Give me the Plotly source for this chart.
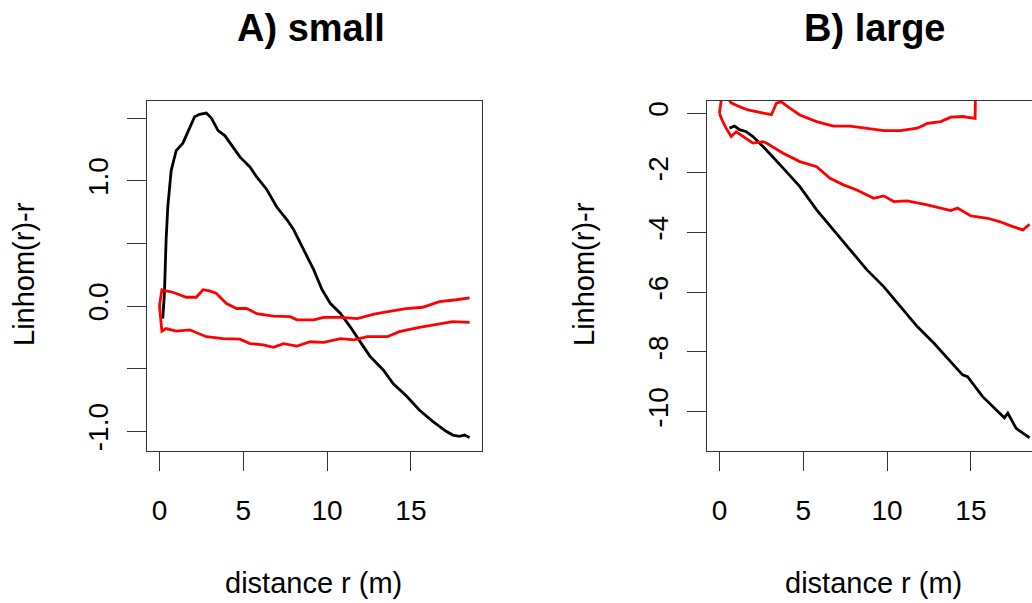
import plotly.graph_objects as go

# ---------------- data ----------------
# Panel A (small)
r_obs_A = [0.2, 0.3, 0.4, 0.5, 0.7, 1.0, 1.4, 1.8, 2.1, 2.4, 2.8, 3.1, 3.5, 3.9, 4.3, 4.8, 5.4, 5.8,
           6.4, 7.0, 7.6, 8.0, 8.6, 9.2, 9.7, 10.2, 10.8, 11.35, 12.05, 12.55, 13.35, 13.95, 14.75,
           15.5, 16.3, 17.1, 17.5, 17.9, 18.2, 18.5]
L_obs_A = [-0.1, 0.1, 0.53, 0.79, 1.08, 1.24, 1.30, 1.42, 1.51, 1.53, 1.54, 1.50, 1.40, 1.36, 1.28, 1.19,
           1.11, 1.03, 0.93, 0.79, 0.69, 0.61, 0.45, 0.29, 0.13, 0.02, -0.06, -0.16, -0.30, -0.40,
           -0.51, -0.62, -0.72, -0.83, -0.92, -1.00, -1.03, -1.04, -1.03, -1.05]

r_hi_A = [0.0, 0.15, 0.4, 0.8, 1.2, 1.6, 2.2, 2.6, 3.0, 3.4, 4.0, 4.6, 5.2, 5.8, 6.8, 7.8, 8.2, 9.2,
          9.8, 10.8, 11.8, 12.8, 13.8, 14.7, 15.7, 16.7, 17.7, 18.5]
L_hi_A = [0.0, 0.13, 0.12, 0.11, 0.09, 0.07, 0.07, 0.13, 0.12, 0.10, 0.02, -0.02, -0.02, -0.06, -0.08,
          -0.085, -0.11, -0.11, -0.09, -0.09, -0.10, -0.064, -0.04, -0.02, -0.01, 0.035, 0.05, 0.065]

r_lo_A = [0.0, 0.15, 0.4, 1.0, 1.8, 2.8, 3.8, 4.8, 5.4, 6.2, 6.8, 7.4, 8.2, 9.0, 9.8, 10.8, 11.6, 12.4,
          13.6, 14.3, 15.5, 16.7, 17.5, 18.5]
L_lo_A = [0.0, -0.2, -0.18, -0.20, -0.19, -0.245, -0.26, -0.265, -0.30, -0.31, -0.33, -0.30, -0.32,
          -0.285, -0.29, -0.26, -0.27, -0.245, -0.245, -0.205, -0.17, -0.145, -0.125, -0.13]

# Panel B (large)
r_obs_B = [0.6, 0.9, 1.2, 1.6, 2.0, 2.8, 3.8, 4.8, 5.8, 6.8, 7.8, 8.8, 9.8, 10.8, 11.8, 12.8, 13.8,
           14.5, 14.8, 15.7, 16.7, 17.0, 17.2, 17.7, 18.4, 18.5]
L_obs_B = [-0.50, -0.43, -0.55, -0.62, -0.78, -1.23, -1.84, -2.46, -3.24, -3.91, -4.58, -5.25, -5.81,
           -6.48, -7.15, -7.71, -8.32, -8.77, -8.83, -9.50, -10.05, -10.21, -10.05, -10.56, -10.84, -10.88]

r_hi_B = [0.0, 0.15, 0.4, 0.7, 1.2, 1.7, 2.2, 2.7, 3.1, 3.4, 3.7, 4.2, 4.8, 5.8, 6.8, 7.8, 8.8, 9.8,
          10.8, 11.8, 12.4, 13.2, 13.8, 14.5, 15.25, 15.3, 16.5, 18.5]
L_hi_B = [0.0, 0.6, 0.6, 0.35, 0.22, 0.11, 0.05, -0.02, -0.05, 0.34, 0.38, 0.17, -0.06, -0.28, -0.43,
          -0.43, -0.50, -0.58, -0.58, -0.50, -0.34, -0.28, -0.13, -0.11, -0.17, 2.0, 2.0, 2.0]

r_lo_B = [0.0, 0.15, 0.4, 0.7, 1.0, 1.4, 2.0, 2.6, 2.8, 3.8, 4.8, 5.8, 6.6, 7.4, 8.2, 9.2, 9.8, 10.4,
          11.2, 12.4, 13.2, 13.8, 14.2, 15.0, 16.0, 16.7, 17.5, 18.1, 18.5]
L_lo_B = [0.0, -0.22, -0.50, -0.78, -0.62, -0.78, -1.00, -0.95, -1.00, -1.34, -1.62, -1.79, -2.18,
          -2.40, -2.57, -2.85, -2.77, -2.96, -2.94, -3.07, -3.18, -3.26, -3.18, -3.44, -3.52, -3.63,
          -3.80, -3.91, -3.72]

yticks_A = [-1.0, -0.5, 0.0, 0.5, 1.0, 1.5]
ytext_A = ["-1.0", "", "0.0", "", "1.0", ""]
yticks_B = [-10, -8, -6, -4, -2, 0]
ytext_B = ["-10", "-8", "-6", "-4", "-2", "0"]
xticks = [0, 5, 10, 15]

# ---------------- layout helpers ----------------
W, H = 1032, 603
FONT = "Liberation Sans, Arial, sans-serif"
px_per_unit = 335 / 19.98


def px(x):
    return x / W


def py(y):
    return (H - y) / H


fig = go.Figure()

line_w = 2.8
fig.add_trace(go.Scatter(x=r_obs_A, y=L_obs_A, mode="lines", line=dict(color="black", width=line_w),
                         xaxis="x", yaxis="y", showlegend=False))
fig.add_trace(go.Scatter(x=r_hi_A, y=L_hi_A, mode="lines", line=dict(color="#ff0000", width=line_w),
                         xaxis="x", yaxis="y", showlegend=False))
fig.add_trace(go.Scatter(x=r_lo_A, y=L_lo_A, mode="lines", line=dict(color="#ff0000", width=line_w),
                         xaxis="x", yaxis="y", showlegend=False))
fig.add_trace(go.Scatter(x=r_obs_B, y=L_obs_B, mode="lines", line=dict(color="black", width=line_w),
                         xaxis="x2", yaxis="y2", showlegend=False))
fig.add_trace(go.Scatter(x=r_hi_B, y=L_hi_B, mode="lines", line=dict(color="#ff0000", width=line_w),
                         xaxis="x2", yaxis="y2", showlegend=False))
fig.add_trace(go.Scatter(x=r_lo_B, y=L_lo_B, mode="lines", line=dict(color="#ff0000", width=line_w),
                         xaxis="x2", yaxis="y2", showlegend=False))

axis_common = dict(showgrid=False, zeroline=False, showline=True, linecolor="#333333", linewidth=1.3,
                   ticks="outside", ticklen=19, tickwidth=1.3, tickcolor="#333333",
                   tickfont=dict(family=FONT, size=28, color="black"))

ydom = [py(451), py(101)]
right_end = -0.74 + (W - 707) / px_per_unit

fig.update_layout(
    width=W, height=H, margin=dict(l=0, r=0, t=0, b=0),
    paper_bgcolor="white", plot_bgcolor="white",
    xaxis=dict(domain=[px(147), px(482)], range=[-0.74, 19.24], tickvals=xticks, mirror=True,
               anchor="y", ticklabelstandoff=15, **axis_common),
    yaxis=dict(domain=ydom, range=[-1.157, 1.636], tickvals=yticks_A, ticktext=ytext_A, mirror=True,
               anchor="x", tickangle=-90, ticklabelstandoff=8, **axis_common),
    xaxis2=dict(domain=[px(707), 1.0], range=[-0.74, right_end], tickvals=xticks, mirror=True,
                anchor="y2", ticklabelstandoff=15, **axis_common),
    yaxis2=dict(domain=ydom, range=[-11.32, 0.41], tickvals=yticks_B, ticktext=ytext_B, mirror=False,
                anchor="x2", tickangle=-90, ticklabelstandoff=8, **axis_common),
    annotations=[
        dict(text="<b>A) small</b>", x=px(311), y=py(28), xref="paper", yref="paper",
             showarrow=False, font=dict(family=FONT, size=38, color="black"),
             xanchor="center", yanchor="middle"),
        dict(text="<b>B) large</b>", x=px(874), y=py(28), xref="paper", yref="paper",
             showarrow=False, font=dict(family=FONT, size=38, color="black"),
             xanchor="center", yanchor="middle"),
        dict(text="distance r (m)", x=px(313), y=py(583), xref="paper", yref="paper",
             showarrow=False, font=dict(family=FONT, size=29, color="black"),
             xanchor="center", yanchor="middle"),
        dict(text="distance r (m)", x=px(873), y=py(583), xref="paper", yref="paper",
             showarrow=False, font=dict(family=FONT, size=29, color="black"),
             xanchor="center", yanchor="middle"),
        dict(text="Linhom(r)-r", x=px(24), y=py(274), xref="paper", yref="paper", textangle=-90,
             showarrow=False, font=dict(family=FONT, size=29, color="black"),
             xanchor="center", yanchor="middle"),
        dict(text="Linhom(r)-r", x=px(584), y=py(274), xref="paper", yref="paper", textangle=-90,
             showarrow=False, font=dict(family=FONT, size=29, color="black"),
             xanchor="center", yanchor="middle"),
    ],
)

fig.write_html("out.html")
